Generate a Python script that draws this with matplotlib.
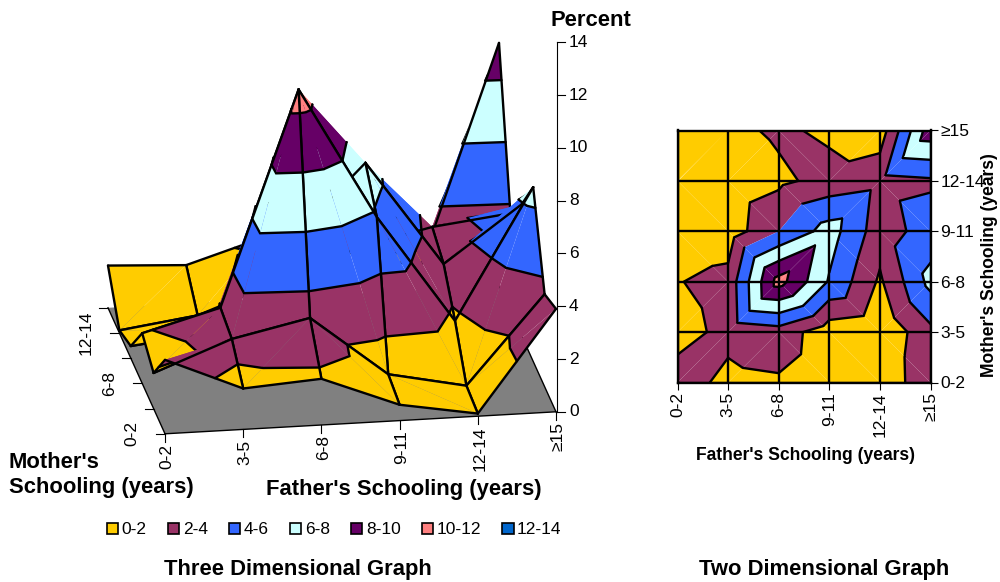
import matplotlib
matplotlib.use('Agg')
import matplotlib.pyplot as plt
from matplotlib.patches import Patch

plt.rcParams['font.family'] = ['Liberation Sans', 'DejaVu Sans']

# percent by mother's schooling (rows) and father's schooling (columns)
schooling = ['0-2', '3-5', '6-8', '9-11', '12-14', '≥15']
percent = [
    [2.8, 1.55, 1.75, 0.6, 0.1, 3.9],
    [1.35, 2.47, 3.1, 0.8, 0.2, 3.5],
    [1.9, 2.7, 10.8, 5.8, 1.7, 6.6],
    [0.46, 0.8, 4.0, 6.9, 2.9, 5.0],
    [0.1, 0.5, 1.56, 2.7, 3.35, 3.7],
    [1.6, 1.45, 2.34, 1.63, 0.9, 9.2],
]
band_labels = ['0-2', '2-4', '4-6', '6-8', '8-10', '10-12', '12-14']
band_colors = ['#FFCC00', '#993366', '#3366FF', '#CCFFFF', '#660066', '#FF8080', '#0066CC']
levels = [0, 2, 4, 6, 8, 10, 12, 14]

n = len(schooling)
BLACK_LW = 1.7
TICK_FONT = 12.5
BOLD_FONT = 15.8
Z_SCALE = 26.4


# oblique projection of the surface to figure pixels
def project(f, m, z):
    x = 165 + 78.2 * f - 11.4 * m
    y = 433.8 - 4.4 * f - 25.2 * m - Z_SCALE * z
    return x, y


def clip(poly, level, keep_above):
    out = []
    for i in range(len(poly)):
        a = poly[i]
        b = poly[(i + 1) % len(poly)]
        a_in = a[2] >= level if keep_above else a[2] <= level
        b_in = b[2] >= level if keep_above else b[2] <= level
        if a_in:
            out.append(a)
        if a_in != b_in:
            t = (level - a[2]) / (b[2] - a[2])
            out.append((a[0] + t * (b[0] - a[0]), a[1] + t * (b[1] - a[1]), level))
    return out


def contour_segment(tri, level):
    pts = []
    for i in range(3):
        a = tri[i]
        b = tri[(i + 1) % 3]
        if (a[2] - level) * (b[2] - level) < 0:
            t = (level - a[2]) / (b[2] - a[2])
            pts.append((a[0] + t * (b[0] - a[0]), a[1] + t * (b[1] - a[1]), level))
    return pts if len(pts) == 2 else None


# the cell is split along its steeper diagonal
def cell_triangles(f, m):
    c = [(f, m, percent[m][f]), (f + 1, m, percent[m][f + 1]),
         (f + 1, m + 1, percent[m + 1][f + 1]), (f, m + 1, percent[m + 1][f])]
    if abs(c[0][2] - c[2][2]) >= abs(c[1][2] - c[3][2]):
        return [[c[0], c[2], c[3]], [c[0], c[1], c[2]]]
    return [[c[3], c[1], c[2]], [c[0], c[1], c[3]]]


def draw_line(ax, a, b):
    ax.plot([a[0], b[0]], [a[1], b[1]], color='black', lw=BLACK_LW, solid_capstyle='round', zorder=2)


def draw_cell(ax, f, m, to_xy):
    for tri in cell_triangles(f, m):
        for i, color in enumerate(band_colors):
            poly = clip(clip(tri, levels[i], True), levels[i + 1], False)
            if len(poly) >= 3:
                xy = [to_xy(*p) for p in poly]
                ax.fill([p[0] for p in xy], [p[1] for p in xy], color=color, lw=0, zorder=2)
        for level in levels[1:-1]:
            seg = contour_segment(tri, level)
            if seg:
                draw_line(ax, to_xy(*seg[0]), to_xy(*seg[1]))


fig = plt.figure(figsize=(10, 5.82), dpi=100)
ax = fig.add_axes([0, 0, 1, 1])
ax.set_xlim(0, 1000)
ax.set_ylim(582, 0)
ax.set_autoscale_on(False)
ax.axis('off')

# floor
corners = [project(0, 0, 0), project(5, 0, 0), project(5, 5, 0), project(0, 5, 0)]
ax.fill([c[0] for c in corners], [c[1] for c in corners], color='#808080', lw=0, zorder=2)
for a, b in [(corners[0], corners[1]), (corners[0], corners[3]), (corners[1], corners[2])]:
    ax.plot([a[0], b[0]], [a[1], b[1]], color='black', lw=1.0, zorder=2)

# surface, back to front
for m in range(n - 2, -1, -1):
    for f in range(n - 2, -1, -1):
        draw_cell(ax, f, m, project)
        p00 = project(f, m, percent[m][f])
        p10 = project(f + 1, m, percent[m][f + 1])
        p01 = project(f, m + 1, percent[m + 1][f])
        p11 = project(f + 1, m + 1, percent[m + 1][f + 1])
        draw_line(ax, p00, p10)
        draw_line(ax, p00, p01)
        draw_line(ax, p01, p11)
        draw_line(ax, p10, p11)

# father's axis ticks
for f, label in enumerate(schooling):
    x, y = project(f, 0, 0)
    ax.plot([x, x], [y, y + 8], color='black', lw=0.8, zorder=2)
    ax.text(x + 2, y + 10, label, rotation=90, ha='center', va='top', fontsize=TICK_FONT)

# mother's axis ticks, every other label
for m, label in enumerate(schooling):
    x, y = project(0, m, 0)
    ax.plot([x - 9, x], [y, y], color='black', lw=0.8, zorder=2)
    if m % 2 == 0 and m < 5:
        ax.text(x - 33, y, label, rotation=90, ha='center', va='center', fontsize=TICK_FONT)

# percent axis
x_axis = project(5, 0, 0)[0] + 1
y_base = project(5, 0, 0)[1]
ax.plot([x_axis, x_axis], [y_base, y_base - 14 * Z_SCALE], color='black', lw=0.8, zorder=2)
for z in range(0, 15, 2):
    y = y_base - z * Z_SCALE
    ax.plot([x_axis, x_axis + 8], [y, y], color='black', lw=0.8, zorder=2)
    ax.text(x_axis + 12, y, str(z), ha='left', va='center', fontsize=TICK_FONT)

ax.text(551, 20, 'Percent', fontsize=BOLD_FONT, fontweight='bold', ha='left', va='center')
ax.text(9, 462, "Mother's", fontsize=BOLD_FONT, fontweight='bold', ha='left', va='center')
ax.text(9, 488, 'Schooling (years)', fontsize=BOLD_FONT, fontweight='bold', ha='left', va='center')
ax.text(404, 489, "Father's Schooling (years)", fontsize=BOLD_FONT, fontweight='bold', ha='center', va='center')
ax.text(298, 570, 'Three Dimensional Graph', fontsize=BOLD_FONT, fontweight='bold', ha='center', va='center')
ax.text(824, 570, 'Two Dimensional Graph', fontsize=BOLD_FONT, fontweight='bold', ha='center', va='center')

handles = [Patch(facecolor=c, edgecolor='black', lw=1.2, label=l) for c, l in zip(band_colors, band_labels)]
ax.legend(handles=handles, ncol=7, loc='center left', bbox_to_anchor=(0.107, 1 - 530 / 582), frameon=False,
          fontsize=TICK_FONT, handlelength=0.645, handleheight=0.645, handletextpad=0.2, columnspacing=1.23,
          borderpad=0, borderaxespad=0)

# two dimensional panel
ax2 = fig.add_axes([677.5 / 1000, 1 - 382.5 / 582, 253 / 1000, 252 / 582], zorder=2)
ax2.set_xlim(0, 5)
ax2.set_ylim(0, 5)
for m in range(n - 1):
    for f in range(n - 1):
        draw_cell(ax2, f, m, lambda a, b, c: (a, b))
for i in range(n):
    ax2.axvline(i, color='black', lw=BLACK_LW, zorder=3)
    ax2.axhline(i, color='black', lw=BLACK_LW, zorder=3)
for side in ax2.spines.values():
    side.set_linewidth(BLACK_LW)
ax2.yaxis.tick_right()
ax2.set_xticks(range(n), schooling, rotation=90, fontsize=TICK_FONT)
ax2.set_yticks(range(n), schooling, fontsize=TICK_FONT)
ax2.tick_params(length=5, width=0.8, pad=2)
fig.text(805 / 1000, 1 - 456 / 582, "Father's Schooling (years)", fontsize=12.65, fontweight='bold',
         ha='center', va='center')
fig.text(990 / 1000, 1 - 265 / 582, "Mother's Schooling (years)", fontsize=12.65, fontweight='bold',
         rotation=90, ha='center', va='center')

fig.savefig('out.png', dpi=100)
